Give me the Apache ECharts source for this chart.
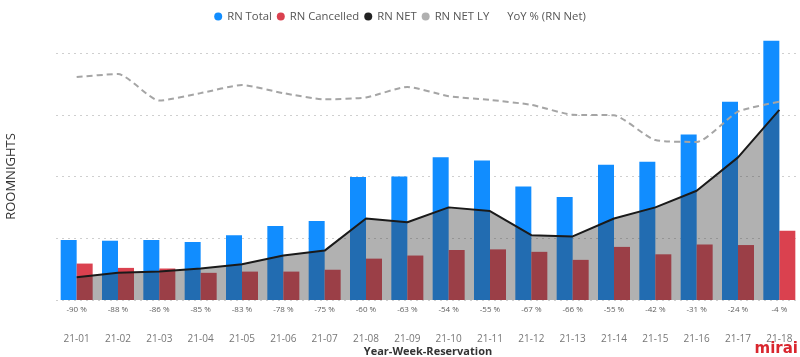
<!DOCTYPE html>
<html>
<head>
<meta charset="utf-8">
<script src="https://cdn.jsdelivr.net/npm/echarts@6/dist/echarts.min.js"></script>
<style>html,body{margin:0;padding:0;background:#fff}#c{width:800px;height:357px}</style>
</head>
<body>
<div id="c"></div>
<script>
const categories = ['21-01','21-02','21-03','21-04','21-05','21-06','21-07','21-08','21-09','21-10','21-11','21-12','21-13','21-14','21-15','21-16','21-17','21-18'];
const rnTotal = [97, 96, 97, 94, 105, 120, 128, 199, 200, 231, 226, 184, 167, 219, 224, 268, 321, 420];
const rnCancelled = [59, 52, 51, 44, 46, 46, 49, 67, 72, 81, 82, 78, 65, 86, 74, 90, 89, 112];
const rnNet = [37, 44, 46, 51, 58, 72, 80, 132, 126, 150, 144, 105, 103, 132, 150, 177, 231, 308];
const rnNetLY = [361, 366, 323, 335, 348, 335, 325, 328, 345, 330, 324, 316, 300, 299, 259, 256, 305, 321];
const yoy = [-90, -88, -86, -85, -83, -78, -75, -60, -63, -54, -55, -67, -66, -55, -42, -31, -24, -4];

const chart = echarts.init(document.getElementById('c'), null, {renderer: 'canvas'});
const font = '"Open Sans", "Noto Sans", sans-serif';
chart.setOption({
  animation: false,
  textStyle: {fontFamily: font},
  legend: {
    left: 'center', top: 6, icon: 'circle', itemWidth: 8, itemHeight: 8, itemGap: 5,
    textStyle: {fontSize: 11.3, color: '#555', fontFamily: font},
    data: [
      {name: 'RN Total', itemStyle: {color: '#118DFF'}},
      {name: 'RN Cancelled', itemStyle: {color: '#DA414F'}},
      {name: 'RN NET', itemStyle: {color: '#222'}},
      {name: 'RN NET LY', itemStyle: {color: '#B0B0B0'}},
      {name: 'YoY % (RN Net)', itemStyle: {color: 'rgba(0,0,0,0)'}}
    ]
  },
  grid: {left: 56, right: 0, top: 53, bottom: 57, containLabel: false, outerBoundsMode: 'none'},
  xAxis: {
    type: 'category', data: categories,
    axisLine: {show: false}, axisTick: {show: false},
    axisLabel: {color: '#777', fontSize: 10, margin: 34, fontFamily: font},
    name: 'Year-Week-Reservation', nameLocation: 'middle', nameGap: 46, nameMoveOverlap: false,
    nameTextStyle: {fontWeight: 'bold', fontSize: 11, color: '#333', fontFamily: font}
  },
  yAxis: {
    type: 'value', min: 0, max: 400, interval: 100,
    axisLabel: {show: false}, axisLine: {show: false}, axisTick: {show: false},
    splitLine: {lineStyle: {type: [2, 4], color: '#cfcfcf', width: 1}},
    name: 'ROOMNIGHTS', nameLocation: 'middle', nameRotate: 90, nameGap: 38,
    nameTextStyle: {fontSize: 13, color: '#333', fontFamily: font}
  },
  series: [
    {name: 'RN Total', type: 'bar', data: rnTotal, barWidth: 16, barGap: '0%', clip: false, z: 2,
     itemStyle: {color: '#118DFF'}},
    {name: 'RN Cancelled', type: 'bar', data: rnCancelled, barWidth: 16, barGap: '0%', clip: false, z: 2,
     itemStyle: {color: '#DA414F'}},
    {name: 'RN NET', type: 'line', data: rnNet, symbol: 'none', clip: false, z: 3,
     lineStyle: {color: '#1a1a1a', width: 2}, itemStyle: {color: '#222'},
     areaStyle: {color: 'rgba(60,60,60,0.4)', opacity: 1}},
    {name: 'RN NET LY', type: 'line', data: rnNetLY, symbol: 'none', clip: false, z: 4, smooth: 0.2,
     lineStyle: {color: '#A5A5A5', width: 2, type: [6, 4]}, itemStyle: {color: '#B0B0B0'}},
    {name: 'YoY % (RN Net)', type: 'scatter', data: yoy.map((v, i) => [i, 0, v]), symbolSize: 0.01, z: 5,
     itemStyle: {color: 'rgba(0,0,0,0)'},
     label: {show: true, position: 'bottom', distance: 6, fontSize: 8, color: '#333', fontFamily: font,
             formatter: p => p.data[2] + ' %'}}
  ],
  graphic: [
    {type: 'text', right: 2, bottom: 0,
     style: {text: 'mirai', fill: '#D9262E', font: 'bold 15px "DejaVu Sans", sans-serif'}}
  ]
});
</script>
</body>
</html>
